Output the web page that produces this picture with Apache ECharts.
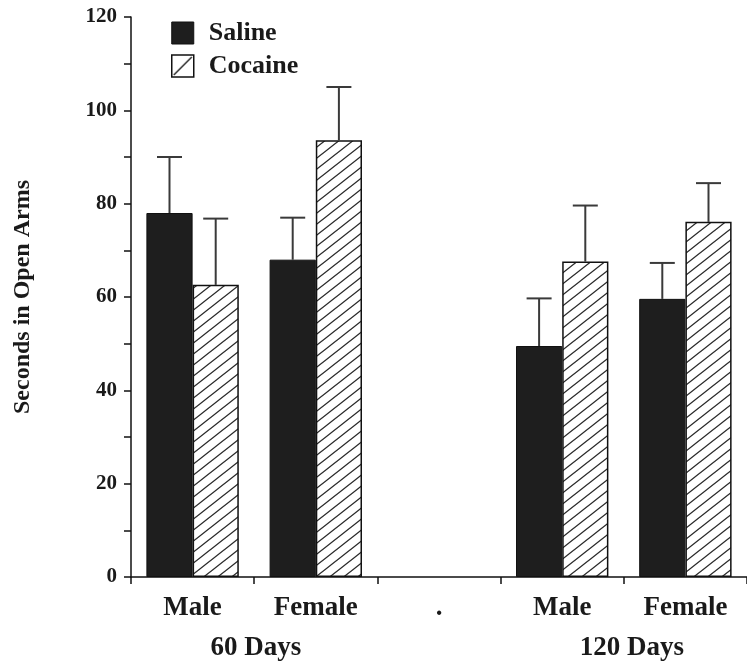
<!DOCTYPE html>
<html>
<head>
<meta charset="utf-8">
<script src="https://cdn.jsdelivr.net/npm/echarts@6/dist/echarts.min.js"></script>
<style>
html,body{margin:0;padding:0;background:#fff;}
#chart{width:747px;height:665px;}
</style>
</head>
<body>
<div id="chart"></div>
<script>
const categories = ['Male', 'Female', '.', 'Male', 'Female'];
const salineValues = [78, 68, null, 49.5, 59.6];
const salineSE = [12, 9, null, 10.2, 7.7];
const cocaineValues = [62.6, 93.6, null, 67.6, 76.1];
const cocaineSE = [14.2, 11.4, null, 12, 8.3];
const yTicks = [0, 20, 40, 60, 80, 100, 120];
const groupLabels = ['60 Days', '120 Days'];

const FONT = '"Liberation Serif", "DejaVu Serif", serif';

function makeHatch(w, h, lw) {
  const c = document.createElement('canvas');
  c.width = w; c.height = h;
  const ctx = c.getContext('2d');
  ctx.fillStyle = '#fff';
  ctx.fillRect(0, 0, w, h);
  ctx.strokeStyle = '#2a2a2a';
  ctx.lineWidth = lw;
  ctx.beginPath();
  ctx.moveTo(-w, 2 * h); ctx.lineTo(2 * w, -h);
  ctx.moveTo(-w, h); ctx.lineTo(w, -h);
  ctx.moveTo(0, 2 * h); ctx.lineTo(2 * w, 0);
  ctx.stroke();
  return c;
}
function makeLegendHatch(s) {
  const c = document.createElement('canvas');
  c.width = s; c.height = s;
  const ctx = c.getContext('2d');
  ctx.fillStyle = '#fff';
  ctx.fillRect(0, 0, s, s);
  ctx.strokeStyle = '#222';
  ctx.lineWidth = 1.4;
  ctx.beginPath();
  ctx.moveTo(2, s - 2); ctx.lineTo(s - 2, 2);
  ctx.stroke();
  return c;
}

const hatch = makeHatch(14, 11, 1.3);
const legendHatch = makeLegendHatch(22);

function errData(vals, se, sign) {
  const out = [];
  vals.forEach((v, i) => { if (v != null) out.push([i, v, se[i], sign]); });
  return out;
}

function renderErr(params, api) {
  const idx = api.value(0);
  const v = api.value(1);
  const e = api.value(2);
  const sign = api.value(3);
  const bw = api.size([1, 0])[0];
  const base = api.coord([idx, v]);
  const top = api.coord([idx, v + e]);
  const x = base[0] + sign * bw * 0.1875;
  const cap = 12.5;
  const style = { stroke: '#3a3a3a', lineWidth: 2 };
  return {
    type: 'group',
    children: [
      { type: 'line', shape: { x1: x, y1: base[1], x2: x, y2: top[1] }, style: style },
      { type: 'line', shape: { x1: x - cap, y1: top[1], x2: x + cap, y2: top[1] }, style: style }
    ]
  };
}

const chart = echarts.init(document.getElementById('chart'), null, { renderer: 'canvas' });
chart.setOption({
  backgroundColor: '#fff',
  animation: false,
  textStyle: { fontFamily: FONT },
  grid: { left: 131, top: 17, width: 625, height: 560, containLabel: false },
  legend: {
    orient: 'vertical',
    left: 166, top: 15,
    itemWidth: 22, itemHeight: 22,
    itemGap: 7,
    icon: 'rect',
    selectedMode: false,
    textStyle: { fontFamily: FONT, fontSize: 26, fontWeight: 'bold', color: '#1a1a1a', padding: [0, 0, 0, 10] },
    data: [
      { name: 'Saline', itemStyle: { color: '#1e1e1e', borderColor: '#111', borderWidth: 1 } },
      { name: 'Cocaine', itemStyle: { color: { image: legendHatch, repeat: 'no-repeat' }, borderColor: '#111', borderWidth: 1.5 } }
    ]
  },
  xAxis: {
    type: 'category',
    data: categories,
    boundaryGap: true,
    axisLine: { show: true, lineStyle: { color: '#111', width: 1.5 } },
    axisTick: { show: true, alignWithLabel: false, length: 7, lineStyle: { color: '#111', width: 1.5 } },
    axisLabel: { fontFamily: FONT, fontSize: 27, fontWeight: 'bold', color: '#1a1a1a', margin: 18, interval: 0 },
    splitLine: { show: false }
  },
  yAxis: {
    type: 'value',
    min: yTicks[0], max: yTicks[yTicks.length - 1], interval: 20,
    name: 'Seconds in Open Arms',
    nameLocation: 'middle',
    nameRotate: 90,
    nameGap: 96,
    nameTextStyle: { fontFamily: FONT, fontSize: 24, fontWeight: 'bold', color: '#1a1a1a' },
    axisLine: { show: true, lineStyle: { color: '#111', width: 1.5 } },
    axisTick: { show: true, length: 7, lineStyle: { color: '#111', width: 1.5 } },
    minorTick: { show: true, splitNumber: 2, length: 7, lineStyle: { color: '#111', width: 1.5 } },
    axisLabel: { fontFamily: FONT, fontSize: 21, fontWeight: 'bold', color: '#1a1a1a', margin: 14 },
    splitLine: { show: false }
  },
  series: [
    {
      name: 'Saline', type: 'bar', data: salineValues,
      barGap: '0%', barCategoryGap: '25%',
      itemStyle: { color: '#1e1e1e', borderColor: '#111', borderWidth: 1 }
    },
    {
      name: 'Cocaine', type: 'bar', data: cocaineValues,
      barGap: '0%', barCategoryGap: '25%',
      itemStyle: { color: { image: hatch, repeat: 'repeat' }, borderColor: '#111', borderWidth: 1.5 }
    },
    { type: 'custom', name: 'Saline SE', renderItem: renderErr, data: errData(salineValues, salineSE, -1), z: 1, silent: true },
    { type: 'custom', name: 'Cocaine SE', renderItem: renderErr, data: errData(cocaineValues, cocaineSE, 1), z: 1, silent: true }
  ],
  graphic: [
    { type: 'text', style: { text: groupLabels[0], x: 256, y: 648, align: 'center', verticalAlign: 'middle', font: 'bold 27px ' + FONT, fill: '#1a1a1a' } },
    { type: 'text', style: { text: groupLabels[1], x: 632, y: 648, align: 'center', verticalAlign: 'middle', font: 'bold 27px ' + FONT, fill: '#1a1a1a' } }
  ]
});
</script>
</body>
</html>
